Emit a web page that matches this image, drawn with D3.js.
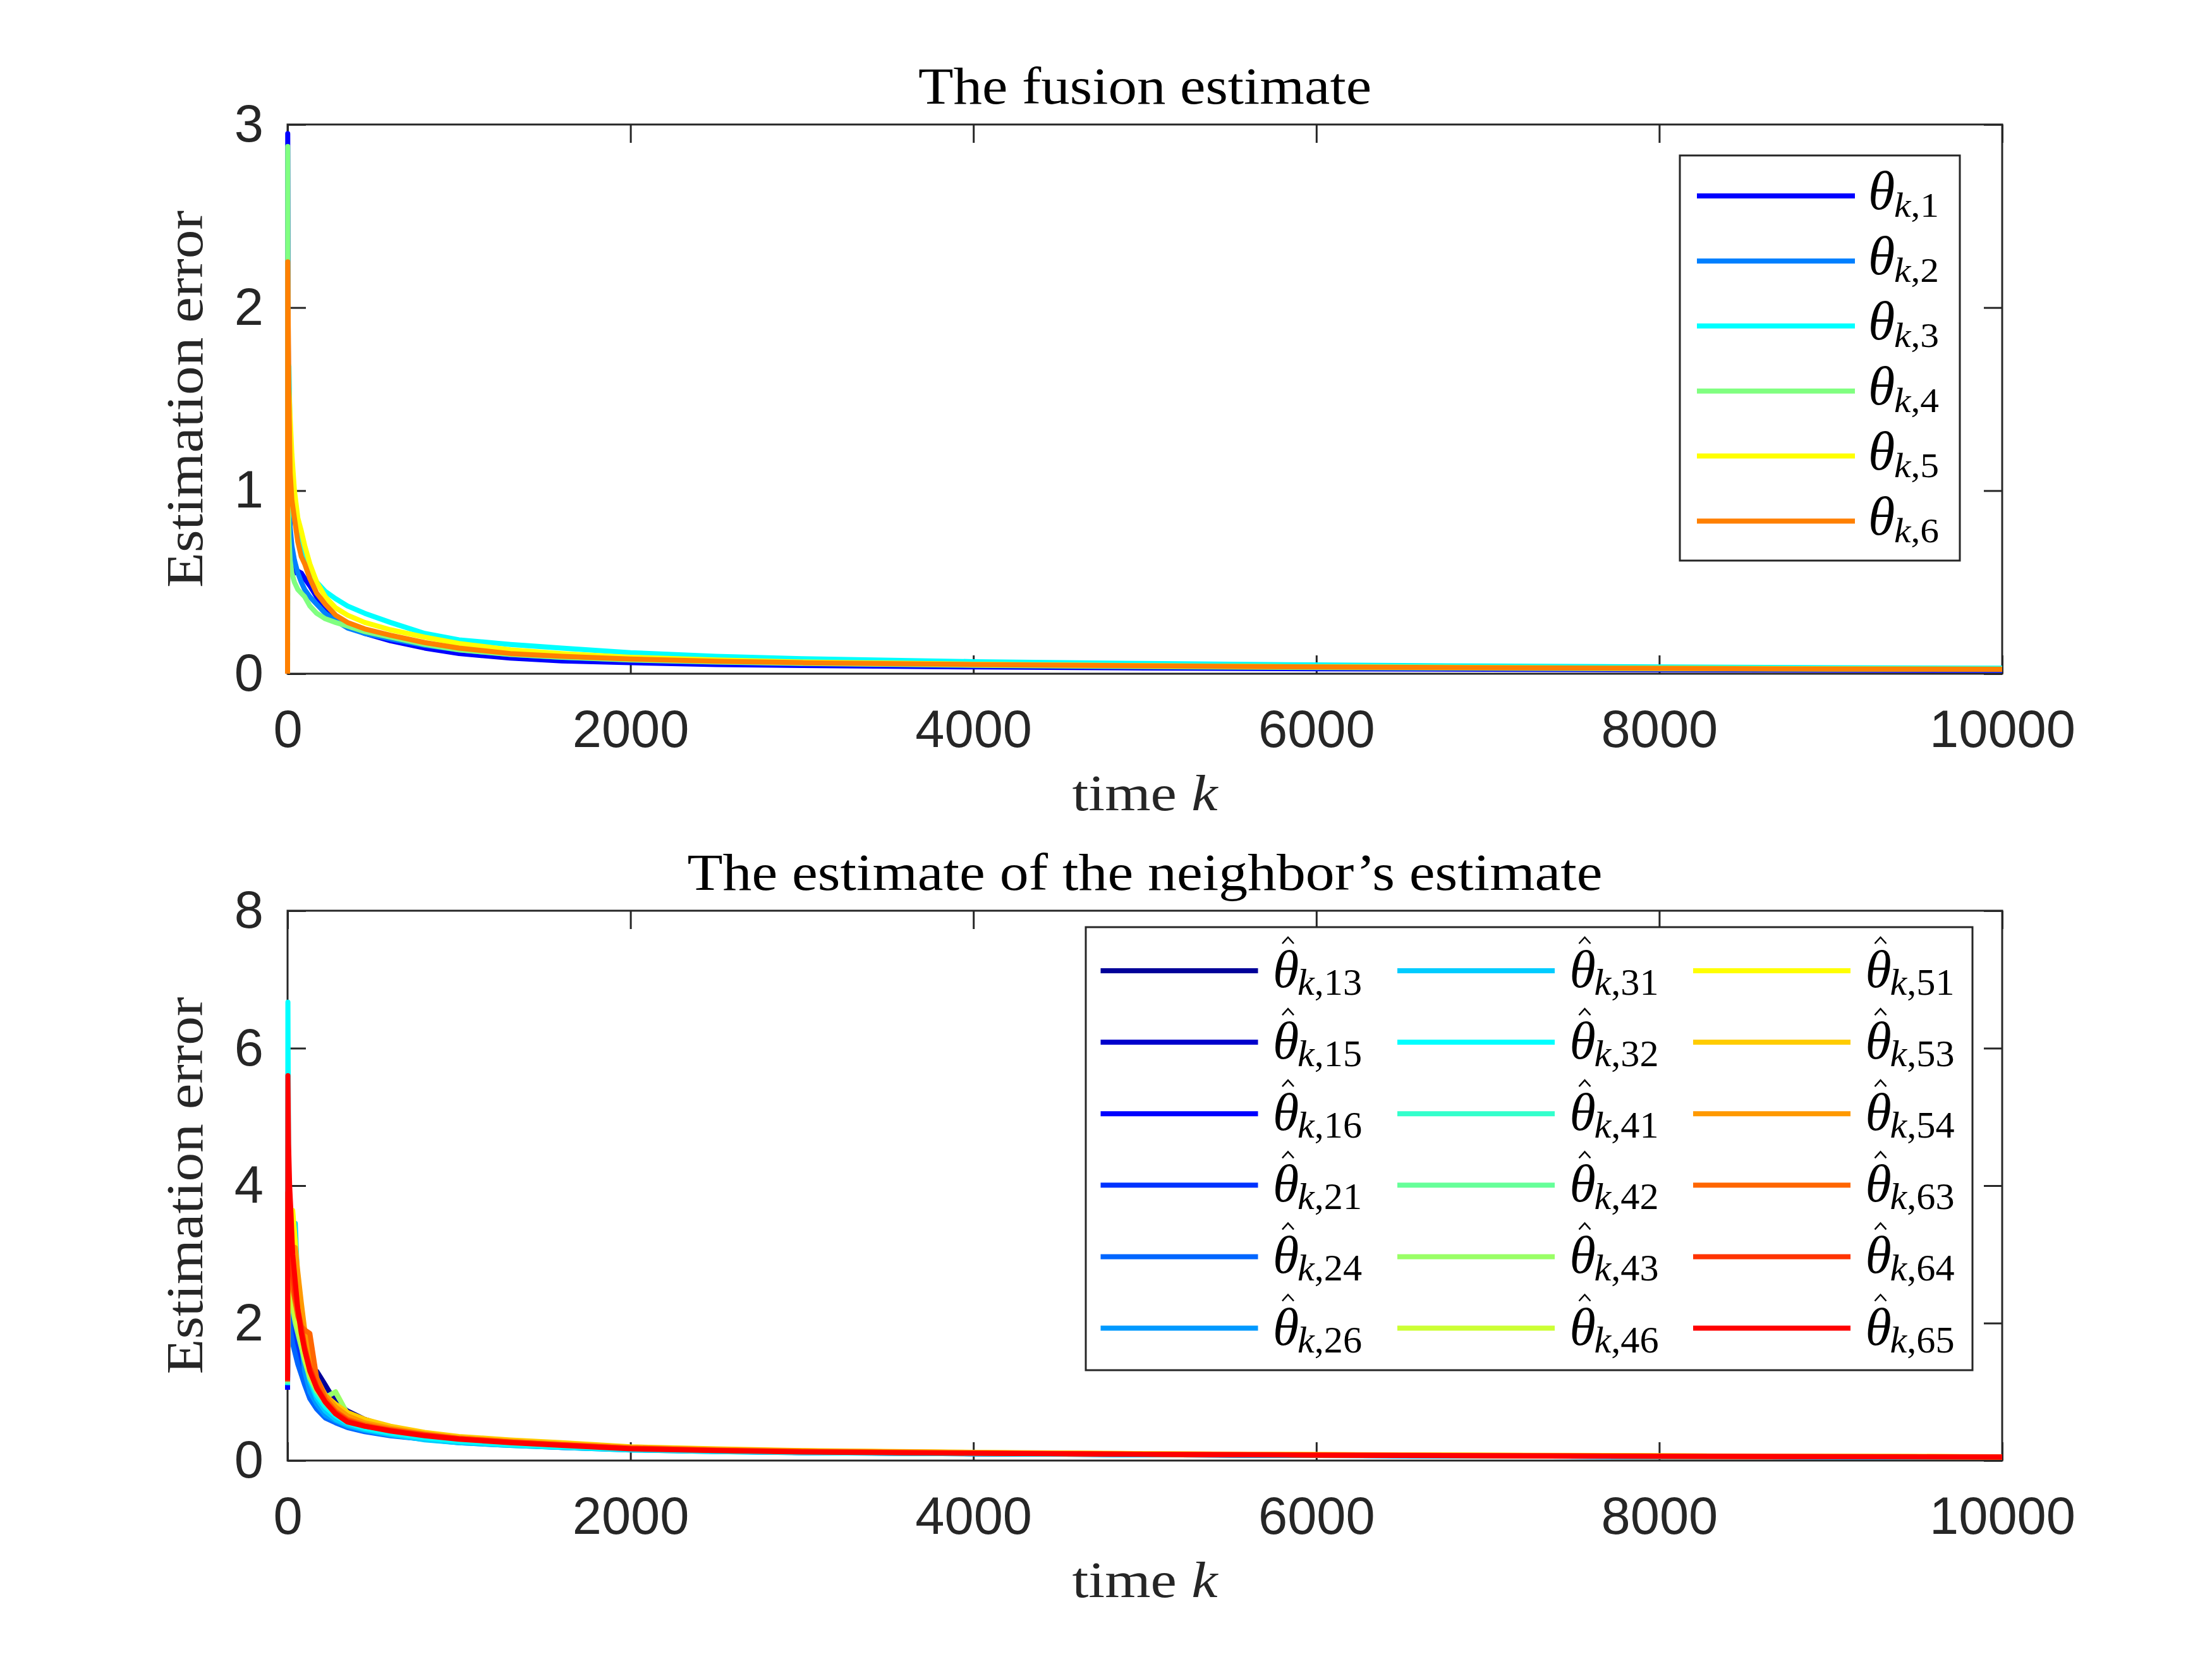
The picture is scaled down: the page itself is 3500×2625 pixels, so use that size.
<!DOCTYPE html>
<html>
<head>
<meta charset="utf-8">
<script src="https://cdn.jsdelivr.net/npm/d3@7"></script>
<style>
  body { margin: 0; background: #fff; }
  svg { display: block; }
</style>
</head>
<body>
<script>
// ---- data ----
const kTop = [0, 1, 4, 8, 15, 25, 40, 60, 80, 100, 130, 170, 220, 280, 350, 450, 600, 800, 1000, 1300, 1600, 2000, 2500, 3000, 4000, 5000, 6000, 7000, 8000, 9000, 10000]

const fusionLabels = ['1', '2', '3', '4', '5', '6']
const fusionColors = ['#0000ff', '#0080ff', '#00ffff', '#80ff80', '#ffff00', '#ff8000']

const fusion1 = [0, 2.95, 1.8, 1.1, 0.75, 0.6, 0.55, 0.56, 0.55, 0.52, 0.48, 0.42, 0.36, 0.3, 0.26, 0.22, 0.18, 0.14, 0.11, 0.085, 0.07, 0.06, 0.05, 0.045, 0.037, 0.031, 0.027, 0.024, 0.022, 0.02, 0.018]
const fusion2 = [0, 1.3, 1.1, 0.9, 0.8, 0.7, 0.62, 0.55, 0.5, 0.46, 0.42, 0.38, 0.33, 0.29, 0.25, 0.22, 0.19, 0.155, 0.13, 0.105, 0.09, 0.077, 0.066, 0.058, 0.048, 0.041, 0.036, 0.032, 0.029, 0.026, 0.024]
const fusion3 = [0, 1.4, 1.55, 1.68, 1.3, 1.0, 0.85, 0.76, 0.72, 0.66, 0.58, 0.5, 0.45, 0.41, 0.37, 0.33, 0.28, 0.22, 0.185, 0.16, 0.14, 0.115, 0.095, 0.082, 0.066, 0.056, 0.048, 0.042, 0.037, 0.033, 0.03]
const fusion4 = [0, 2.88, 1.2, 0.75, 0.62, 0.55, 0.5, 0.46, 0.44, 0.42, 0.37, 0.33, 0.3, 0.28, 0.26, 0.23, 0.2, 0.16, 0.13, 0.105, 0.09, 0.075, 0.064, 0.056, 0.046, 0.039, 0.034, 0.03, 0.027, 0.025, 0.023]
const fusion5 = [0, 1.2, 1.45, 1.55, 1.4, 1.2, 1.0, 0.85, 0.78, 0.7, 0.6, 0.5, 0.42, 0.36, 0.32, 0.28, 0.24, 0.2, 0.165, 0.13, 0.11, 0.09, 0.075, 0.064, 0.052, 0.044, 0.038, 0.034, 0.03, 0.027, 0.025]
const fusion6 = [0, 2.25, 1.9, 1.5, 1.1, 0.95, 0.85, 0.72, 0.64, 0.6, 0.52, 0.44, 0.38, 0.32, 0.28, 0.245, 0.21, 0.17, 0.14, 0.11, 0.095, 0.08, 0.068, 0.06, 0.05, 0.043, 0.037, 0.033, 0.029, 0.026, 0.024]

const kBot = [0, 2, 6, 12, 20, 30, 45, 60, 80, 100, 130, 170, 220, 280, 350, 450, 600, 800, 1000, 1300, 1600, 2000, 2500, 3000, 4000, 5000, 6000, 7000, 8000, 9000, 10000]

const neighborLabels = ['13', '15', '16', '21', '24', '26', '31', '32', '41', '42', '43', '46', '51', '53', '54', '63', '64', '65']
const neighborColors = ['#000099', '#0000cc', '#0000ff', '#0033ff', '#0066ff', '#0099ff', '#00ccff', '#00ffff', '#33ffcc',
                        '#66ff99', '#99ff66', '#ccff33', '#ffff00', '#ffcc00', '#ff9900', '#ff6600', '#ff3300', '#ff0000']

const nb13 = [1.05, 3.2, 2.9, 2.6, 2.4, 2.2, 2.0, 1.85, 1.6, 1.45, 1.3, 1.3, 1.1, 0.85, 0.72, 0.6, 0.48, 0.38, 0.32, 0.27, 0.22, 0.17, 0.15, 0.13, 0.11, 0.092, 0.08, 0.072, 0.064, 0.058, 0.052]
const nb15 = [1.05, 2.8, 2.6, 2.4, 2.2, 2.0, 1.8, 1.6, 1.4, 1.2, 1.0, 0.85, 0.7, 0.62, 0.55, 0.5, 0.42, 0.35, 0.3, 0.25, 0.21, 0.17, 0.14, 0.12, 0.1, 0.088, 0.077, 0.069, 0.061, 0.055, 0.049]
const nb16 = [1.03, 3.0, 2.7, 2.4, 2.1, 1.9, 1.75, 1.6, 1.45, 1.25, 1.05, 0.88, 0.72, 0.63, 0.55, 0.48, 0.41, 0.35, 0.3, 0.26, 0.22, 0.18, 0.15, 0.13, 0.11, 0.09, 0.079, 0.07, 0.062, 0.056, 0.05]
const nb21 = [1.1, 2.6, 2.4, 2.2, 2.0, 1.85, 1.7, 1.5, 1.3, 1.15, 0.95, 0.8, 0.68, 0.6, 0.52, 0.46, 0.4, 0.34, 0.29, 0.24, 0.2, 0.16, 0.135, 0.118, 0.1, 0.087, 0.076, 0.068, 0.06, 0.054, 0.048]
const nb24 = [1.1, 2.4, 2.2, 2.0, 1.85, 1.7, 1.55, 1.4, 1.25, 1.1, 0.9, 0.75, 0.62, 0.55, 0.48, 0.42, 0.36, 0.31, 0.27, 0.23, 0.19, 0.16, 0.135, 0.118, 0.1, 0.086, 0.075, 0.067, 0.06, 0.054, 0.048]
const nb26 = [1.12, 3.1, 2.9, 2.7, 2.5, 2.4, 2.3, 2.1, 1.7, 1.3, 1.0, 0.82, 0.66, 0.58, 0.5, 0.44, 0.37, 0.31, 0.26, 0.22, 0.19, 0.155, 0.13, 0.115, 0.098, 0.085, 0.074, 0.066, 0.059, 0.053, 0.047]
const nb31 = [1.1, 3.3, 3.3, 3.2, 3.1, 2.9, 3.45, 2.5, 1.9, 1.5, 1.15, 0.9, 0.72, 0.6, 0.52, 0.45, 0.38, 0.3, 0.26, 0.22, 0.19, 0.155, 0.13, 0.115, 0.098, 0.085, 0.074, 0.066, 0.059, 0.053, 0.047]
const nb32 = [1.1, 6.67, 4.2, 3.4, 2.9, 2.6, 2.3, 2.0, 1.75, 1.5, 1.2, 0.95, 0.78, 0.65, 0.55, 0.47, 0.4, 0.33, 0.28, 0.23, 0.2, 0.16, 0.135, 0.118, 0.1, 0.087, 0.076, 0.068, 0.06, 0.054, 0.048]
const nb41 = [1.12, 3.5, 3.2, 2.9, 2.6, 2.4, 2.2, 2.0, 1.8, 1.55, 1.25, 1.0, 0.82, 0.68, 0.57, 0.5, 0.43, 0.36, 0.31, 0.26, 0.22, 0.18, 0.15, 0.13, 0.11, 0.092, 0.08, 0.071, 0.063, 0.057, 0.051]
const nb42 = [1.12, 3.0, 2.8, 2.6, 2.4, 2.25, 2.1, 1.95, 1.75, 1.5, 1.2, 1.0, 0.85, 0.72, 0.6, 0.52, 0.44, 0.37, 0.31, 0.26, 0.22, 0.18, 0.15, 0.13, 0.11, 0.092, 0.08, 0.071, 0.063, 0.057, 0.051]
const nb43 = [1.15, 3.2, 3.0, 2.7, 2.45, 2.2, 2.0, 1.85, 1.65, 1.45, 1.2, 1.02, 0.92, 1.0, 0.68, 0.55, 0.45, 0.38, 0.32, 0.27, 0.23, 0.18, 0.15, 0.13, 0.11, 0.093, 0.081, 0.072, 0.064, 0.058, 0.052]
const nb46 = [1.18, 3.0, 2.9, 2.7, 2.5, 2.3, 2.1, 1.95, 1.75, 1.5, 1.25, 1.05, 0.88, 0.74, 0.62, 0.54, 0.46, 0.38, 0.32, 0.27, 0.23, 0.185, 0.155, 0.135, 0.113, 0.095, 0.083, 0.074, 0.066, 0.059, 0.053]
const nb51 = [1.2, 3.8, 3.6, 3.4, 3.3, 3.64, 3.2, 2.6, 2.1, 1.75, 1.4, 1.15, 0.95, 0.8, 0.66, 0.56, 0.47, 0.39, 0.33, 0.28, 0.24, 0.19, 0.16, 0.14, 0.115, 0.097, 0.085, 0.075, 0.067, 0.06, 0.054]
const nb53 = [1.2, 3.4, 3.2, 3.0, 2.8, 2.6, 2.5, 2.3, 2.0, 1.7, 1.4, 1.15, 0.95, 0.82, 0.7, 0.6, 0.5, 0.41, 0.35, 0.3, 0.26, 0.2, 0.17, 0.145, 0.12, 0.1, 0.088, 0.078, 0.07, 0.062, 0.056]
const nb54 = [1.18, 3.6, 3.4, 3.2, 3.0, 2.9, 3.1, 2.74, 2.3, 1.9, 1.5, 1.2, 0.95, 0.78, 0.65, 0.55, 0.47, 0.39, 0.33, 0.28, 0.24, 0.19, 0.16, 0.14, 0.115, 0.097, 0.085, 0.075, 0.067, 0.06, 0.054]
const nb63 = [1.15, 3.3, 3.1, 2.9, 2.7, 2.5, 2.3, 2.1, 1.95, 1.9, 1.85, 1.2, 0.9, 0.72, 0.6, 0.52, 0.45, 0.38, 0.32, 0.27, 0.23, 0.18, 0.15, 0.13, 0.11, 0.093, 0.081, 0.072, 0.064, 0.058, 0.052]
const nb64 = [1.15, 3.9, 3.6, 3.3, 3.0, 2.7, 2.4, 2.2, 1.95, 1.65, 1.35, 1.08, 0.86, 0.7, 0.58, 0.5, 0.44, 0.37, 0.32, 0.27, 0.23, 0.18, 0.15, 0.13, 0.108, 0.092, 0.08, 0.071, 0.063, 0.057, 0.051]
const nb65 = [1.17, 5.6, 4.6, 4.0, 3.6, 3.0, 2.6, 2.2, 1.85, 1.6, 1.3, 1.05, 0.85, 0.68, 0.56, 0.5, 0.43, 0.36, 0.31, 0.26, 0.22, 0.17, 0.145, 0.125, 0.105, 0.09, 0.078, 0.07, 0.062, 0.056, 0.05]

const xTicks = [0, 2000, 4000, 6000, 8000, 10000]
const yTicksTop = [0, 1, 2, 3]
const yTicksBot = [0, 2, 4, 6, 8]

const fusionSeries = [fusion1, fusion2, fusion3, fusion4, fusion5, fusion6]
const neighborSeries = [nb13, nb15, nb16, nb21, nb24, nb26, nb31, nb32, nb41, nb42, nb43, nb46, nb51, nb53, nb54, nb63, nb64, nb65]

// ---- page ----
const W = 3500, H = 2625
const axisColor = '#262626'
const sansFont = '"Liberation Sans", Arial, Helvetica, sans-serif'
const serifFont = '"Liberation Serif", "Times New Roman", serif'

const svg = d3.select('body').append('svg')
    .attr('width', W)
    .attr('height', H)
    .attr('viewBox', `0 0 ${W} ${H}`)

svg.append('rect').attr('width', W).attr('height', H).attr('fill', '#fff')

function fitText(sel, width){
    sel.attr('textLength', width).attr('lengthAdjust', 'spacingAndGlyphs')
}

function drawPanel(box, yMax, yTicks, kValues, seriesList, colors, title, titleWidth){

    const x = d3.scaleLinear().domain([0, 10000]).range([box.left, box.right])
    const y = d3.scaleLinear().domain([0, yMax]).range([box.bottom, box.top])

    const g = svg.append('g')

    // ticks (inward, mirrored on all sides)
    const tickLen = 29
    const styleAxis = function(a){
        a.select('.domain').remove()
        a.selectAll('.tick line').attr('stroke', axisColor).attr('stroke-width', 3)
        a.selectAll('.tick text')
            .attr('fill', axisColor)
            .style('font-family', sansFont)
            .style('font-size', '83px')
    }

    g.append('g')
        .attr('transform', `translate(0,${box.bottom})`)
        .call(d3.axisBottom(x).tickValues(xTicks).tickSizeInner(-tickLen).tickSizeOuter(0).tickPadding(57).tickFormat(d3.format('d')))
        .call(styleAxis)

    g.append('g')
        .attr('transform', `translate(0,${box.top})`)
        .call(d3.axisTop(x).tickValues(xTicks).tickSizeInner(-tickLen).tickSizeOuter(0).tickFormat(''))
        .call(styleAxis)

    g.append('g')
        .attr('transform', `translate(${box.left},0)`)
        .call(d3.axisLeft(y).tickValues(yTicks).tickSizeInner(-tickLen).tickSizeOuter(0).tickPadding(38).tickFormat(d3.format('d')))
        .call(styleAxis)

    g.append('g')
        .attr('transform', `translate(${box.right},0)`)
        .call(d3.axisRight(y).tickValues(yTicks).tickSizeInner(-tickLen).tickSizeOuter(0).tickFormat(''))
        .call(styleAxis)

    g.append('rect')
        .attr('x', box.left)
        .attr('y', box.top)
        .attr('width', box.right - box.left)
        .attr('height', box.bottom - box.top)
        .attr('fill', 'none')
        .attr('stroke', axisColor)
        .attr('stroke-width', 3)

    // series
    const line = d3.line()
        .x((d, i) => x(kValues[i]))
        .y(d => y(d))

    g.append('g').selectAll('path')
        .data(seriesList)
        .enter()
        .append('path')
        .attr('d', d => line(d))
        .attr('fill', 'none')
        .attr('stroke', (d, i) => colors[i])
        .attr('stroke-width', 8)
        .attr('stroke-linejoin', 'round')

    // title
    g.append('text')
        .attr('x', (box.left + box.right) / 2)
        .attr('y', box.top - 33)
        .attr('text-anchor', 'middle')
        .style('font-family', serifFont)
        .style('font-size', '82px')
        .attr('fill', '#000')
        .text(title)
        .call(fitText, titleWidth)

    // x label
    const xl = g.append('text')
        .attr('x', (box.left + box.right) / 2)
        .attr('y', box.bottom + 216)
        .attr('text-anchor', 'middle')
        .style('font-family', serifFont)
        .style('font-size', '80px')
        .attr('fill', axisColor)
    xl.append('tspan').text('time ')
    xl.append('tspan').style('font-style', 'italic').text('k')
    fitText(xl, 230)

    // y label
    g.append('text')
        .attr('transform', `translate(320,${(box.top + box.bottom) / 2}) rotate(-90)`)
        .attr('text-anchor', 'middle')
        .style('font-family', serifFont)
        .style('font-size', '82px')
        .attr('fill', axisColor)
        .text('Estimation error')
        .call(fitText, 597)
}

const topBox = {left: 455, right: 3168, top: 197, bottom: 1066}
const botBox = {left: 455, right: 3168, top: 1441, bottom: 2311}

drawPanel(topBox, 3, yTicksTop, kTop, fusionSeries, fusionColors, 'The fusion estimate', 717)
drawPanel(botBox, 8, yTicksBot, kBot, neighborSeries, neighborColors, 'The estimate of the neighbor\u2019s estimate', 1448)

// ---- legend: fusion estimate ----
const legTop = svg.append('g')
legTop.append('rect')
    .attr('x', 2658).attr('y', 246)
    .attr('width', 443).attr('height', 641)
    .attr('fill', '#fff')
    .attr('stroke', axisColor)
    .attr('stroke-width', 3)

fusionLabels.forEach(function(lab, i){
    const rowY = 310 + i * 102.9
    legTop.append('line')
        .attr('x1', 2685).attr('x2', 2935)
        .attr('y1', rowY).attr('y2', rowY)
        .attr('stroke', fusionColors[i])
        .attr('stroke-width', 8)
    legTop.append('text')
        .attr('x', 2956).attr('y', rowY + 21)
        .style('font-family', serifFont)
        .style('font-style', 'italic')
        .style('font-size', '86px')
        .text('\u03b8')
    const sub = legTop.append('text')
        .attr('x', 2997).attr('y', rowY + 33)
        .style('font-family', serifFont)
        .style('font-size', '54px')
    sub.append('tspan').style('font-style', 'italic').text('k')
    sub.append('tspan').text(',' + lab)
    fitText(sub, 71)
})

// ---- legend: neighbor's estimate ----
const legBot = svg.append('g')
legBot.append('rect')
    .attr('x', 1718).attr('y', 1467)
    .attr('width', 1403).attr('height', 701)
    .attr('fill', '#fff')
    .attr('stroke', axisColor)
    .attr('stroke-width', 3)

const colStart = [1741.5, 2211, 2679]
neighborLabels.forEach(function(lab, i){
    const col = Math.floor(i / 6)
    const rowY = 1536 + (i % 6) * 113.1
    const x0 = colStart[col]
    legBot.append('line')
        .attr('x1', x0).attr('x2', x0 + 249)
        .attr('y1', rowY).attr('y2', rowY)
        .attr('stroke', neighborColors[i])
        .attr('stroke-width', 8)
    const tx = x0 + 272.5
    legBot.append('text')
        .attr('x', tx).attr('y', rowY + 26)
        .style('font-family', serifFont)
        .style('font-style', 'italic')
        .style('font-size', '84px')
        .text('\u03b8')
    // hat drawn as a thin caret above the theta
    legBot.append('path')
        .attr('d', `M${tx + 15},${rowY - 43} L${tx + 24},${rowY - 53} L${tx + 33},${rowY - 43}`)
        .attr('fill', 'none')
        .attr('stroke', '#000')
        .attr('stroke-width', 2.5)
    const sub = legBot.append('text')
        .attr('x', tx + 39).attr('y', rowY + 38)
        .style('font-family', serifFont)
        .style('font-size', '60px')
    sub.append('tspan').style('font-style', 'italic').text('k')
    sub.append('tspan').text(',' + lab)
    fitText(sub, 102)
})
</script>
</body>
</html>
